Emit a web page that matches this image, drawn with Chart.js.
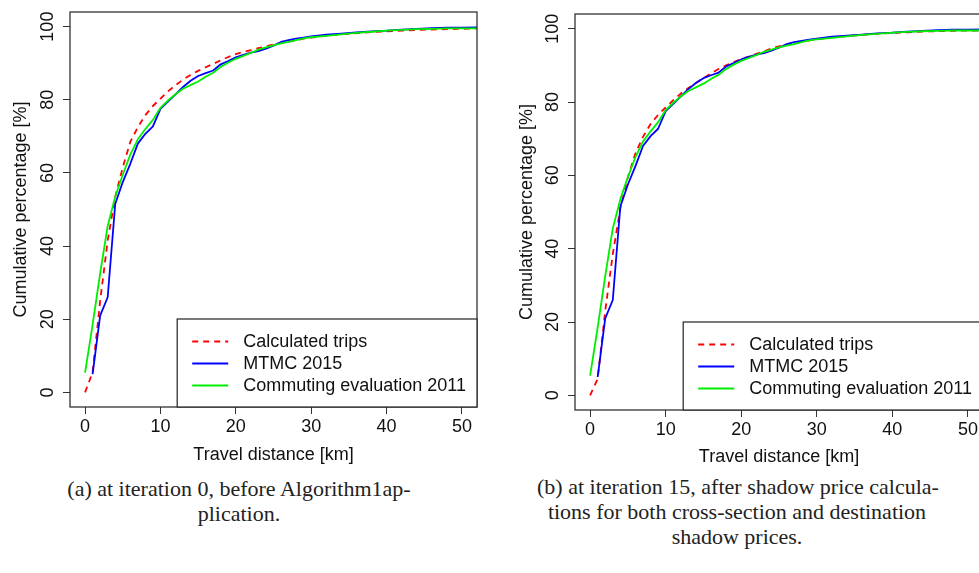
<!DOCTYPE html>
<html>
<head>
<meta charset="utf-8">
<title>Cumulative trip length distribution</title>
<script src="https://cdn.jsdelivr.net/npm/chart.js@4.4.0/dist/chart.umd.min.js"></script>
<style>
  html, body { margin: 0; padding: 0; background: #fff; width: 979px; height: 573px; overflow: hidden; }
  .panel { position: absolute; top: 0; }
  .caption {
    position: absolute;
    font-family: "Liberation Serif", "DejaVu Serif", serif;
    font-size: 22px;
    line-height: 25px;
    text-align: center;
    color: #222;
    white-space: nowrap;
  }
</style>
</head>
<body>

<div class="panel" style="left:0; width:490px; height:470px;"><canvas id="chartA" width="490" height="470"></canvas></div>
<div class="panel" style="left:490px; width:510px; height:470px;"><canvas id="chartB" width="510" height="470"></canvas></div>

<div class="caption" style="left:39px; width:400px; top:476px;">(a) at iteration 0, before Algorithm1ap-<br>plication.</div>
<div class="caption" style="left:537px; width:400px; top:474px;">(b) at iteration 15, after shadow price calcula-<br>tions for both cross-section and destination<br>shadow prices.</div>

<script>
// =============================
// DATA
// =============================
const distanceKm = [0, 1, 2, 3, 4, 5, 6, 7, 8, 9, 10, 11, 12, 13, 14, 15, 16, 17, 18, 19, 20,
  21, 22, 23, 24, 25, 26, 27, 28, 29, 30, 32, 34, 36, 38, 40, 42, 44, 46, 48, 50, 52];

// cumulative share of trips [%] at each distance
const calcTripsIter0 = [0, 5.5, 25, 41.5, 53.5, 61.5, 68.5, 72.5, 75.8, 78.3,
  80.3, 82.3, 84.0, 85.5, 86.8, 87.9, 88.9, 89.8, 90.8, 91.7,
  92.5, 93.1, 93.6, 94.1, 94.6, 95.1, 95.5, 95.9, 96.3, 96.7,
  97.0, 97.5, 97.9, 98.2, 98.5, 98.7, 98.9, 99.1, 99.2, 99.3, 99.4, 99.5];

const calcTripsIter15 = [0, 4.5, 23, 38.5, 51, 59.5, 66, 70.5, 74, 76.5,
  78.5, 80.5, 82.3, 83.8, 85.2, 86.5, 87.8, 89.0, 90.0, 90.9,
  91.7, 92.4, 93.1, 93.8, 94.6, 95.2, 95.6, 96.0, 96.4, 96.8,
  97.1, 97.6, 98.0, 98.3, 98.6, 98.8, 99.0, 99.2, 99.3, 99.4, 99.5, 99.5];

const mtmc2015 = [null, 5, 21, 26, 51.5, 57.5, 62.5, 68, 70.7, 72.7,
  77.5, 79.5, 81.5, 83.5, 85.2, 86.5, 87.3, 88, 89.7, 90.6,
  91.6, 92.3, 92.9, 93.3, 94, 94.8, 95.8, 96.3, 96.7, 97,
  97.3, 97.8, 98.1, 98.4, 98.7, 98.9, 99.2, 99.4, 99.6, 99.7, 99.7, 99.8];

const commuting2011 = [5.4, 18.5, 32.5, 45.5, 53.5, 59.5, 65, 69.2, 72, 74.5,
  77.8, 79.8, 81.5, 83, 84, 85, 86.3, 87.4, 89, 90.2,
  91.2, 92, 92.8, 93.7, 94.3, 94.9, 95.4, 95.8, 96.3, 96.8,
  97.1, 97.5, 97.9, 98.3, 98.6, 98.9, 99.1, 99.3, 99.4, 99.5, 99.5, 99.5];

const seriesLabels = ["Calculated trips", "MTMC 2015", "Commuting evaluation 2011"];
const xTickValues = [0, 10, 20, 30, 40, 50];
const yTickValues = [0, 20, 40, 60, 80, 100];

// =============================
// STYLE
// =============================
const SANS = "'Liberation Sans', Arial, Helvetica, sans-serif";
const FONT_SIZE = 18;
const INK = "#111";

// =============================
// UTIL
// =============================
const toPoints = (values) =>
  distanceKm.map((x, i) => ({ x, y: values[i] })).filter((p) => p.y !== null);

// frame round the plot region (R style box)
const boxPlugin = {
  id: "plotBox",
  afterDraw(chart) {
    const { ctx, chartArea: a } = chart;
    ctx.save();
    ctx.strokeStyle = "#222";
    ctx.lineWidth = 1.2;
    ctx.strokeRect(a.left, a.top, a.right - a.left, a.bottom - a.top);
    ctx.restore();
  }
};

// legend box in the bottom right corner of the plot region
const cornerLegendPlugin = {
  id: "cornerLegend",
  afterDraw(chart) {
    const { ctx, chartArea: a } = chart;
    const sets = chart.data.datasets;
    ctx.save();
    ctx.font = `${FONT_SIZE}px ${SANS}`;
    const textW = Math.max(...sets.map((d) => ctx.measureText(d.label).width));
    const boxH = 88;
    const boxW = 66 + textW + 11;
    const left = a.right - boxW;
    const top = a.bottom - boxH;

    ctx.fillStyle = "#fff";
    ctx.fillRect(left, top, boxW, boxH);
    ctx.strokeStyle = "#222";
    ctx.lineWidth = 1.2;
    ctx.strokeRect(left, top, boxW, boxH);

    sets.forEach((d, i) => {
      const y = top + 22.5 + i * 22;
      ctx.beginPath();
      ctx.setLineDash(d.borderDash || []);
      ctx.strokeStyle = d.borderColor;
      ctx.lineWidth = d.borderWidth;
      ctx.moveTo(left + 15, y);
      ctx.lineTo(left + 51, y);
      ctx.stroke();
      ctx.setLineDash([]);
      ctx.fillStyle = INK;
      ctx.textBaseline = "middle";
      ctx.textAlign = "left";
      ctx.fillText(d.label, left + 66, y + 1);
    });
    ctx.restore();
  }
};

// =============================
// RENDER
// =============================
function renderPanel(canvasId, calcValues, frame) {
  // frame: plot region in canvas coordinates + title offsets
  const canvas = document.getElementById(canvasId);
  const ctx = canvas.getContext("2d");

  return new Chart(ctx, {
    type: "scatter",
    data: {
      datasets: [
        {
          label: seriesLabels[0],
          data: toPoints(calcValues),
          borderColor: "#ff0000",
          borderWidth: 1.8,
          borderDash: [6, 5],
          order: 3
        },
        {
          label: seriesLabels[1],
          data: toPoints(mtmc2015),
          borderColor: "#0000ff",
          borderWidth: 1.8,
          order: 2
        },
        {
          label: seriesLabels[2],
          data: toPoints(commuting2011),
          borderColor: "#00ee00",
          borderWidth: 1.8,
          order: 1
        }
      ].map((d) => ({
        ...d,
        showLine: true,
        pointRadius: 0,
        pointHoverRadius: 0,
        tension: 0,
        borderJoinStyle: "round",
        fill: false
      }))
    },
    options: {
      responsive: false,
      animation: false,
      events: [],
      layout: {
        padding: { left: 0, top: frame.top, right: canvas.width - frame.right, bottom: 0 }
      },
      plugins: {
        legend: { display: false },
        tooltip: { enabled: false }
      },
      scales: {
        x: {
          type: "linear",
          min: -2,
          max: 52,
          afterBuildTicks: (s) => { s.ticks = xTickValues.map((v) => ({ value: v })); },
          afterFit: (s) => { s.height = canvas.height - frame.bottom; },
          grid: { drawOnChartArea: false, drawTicks: true, tickLength: 7, color: "#333", lineWidth: 1 },
          border: { display: false },
          ticks: { color: INK, padding: 2, maxRotation: 0, font: { family: SANS, size: FONT_SIZE } },
          title: {
            display: true,
            text: "Travel distance [km]",
            color: INK,
            font: { family: SANS, size: FONT_SIZE },
            padding: { top: 0, bottom: frame.xTitlePad }
          }
        },
        y: {
          type: "linear",
          min: -4,
          max: 104,
          afterBuildTicks: (s) => { s.ticks = yTickValues.map((v) => ({ value: v })); },
          afterFit: (s) => { s.width = frame.left; },
          grid: { drawOnChartArea: false, drawTicks: true, tickLength: 7, color: "#333", lineWidth: 1 },
          border: { display: false },
          ticks: {
            color: INK,
            padding: 0,
            minRotation: 90,
            maxRotation: 90,
            crossAlign: "center",
            font: { family: SANS, size: FONT_SIZE }
          },
          title: {
            display: true,
            text: "Cumulative percentage [%]",
            color: INK,
            font: { family: SANS, size: FONT_SIZE },
            padding: { top: frame.yTitlePad, bottom: 0 }
          }
        }
      }
    },
    plugins: [boxPlugin, cornerLegendPlugin]
  });
}

renderPanel("chartA", calcTripsIter0, { left: 70, top: 12, right: 477, bottom: 407, xTitlePad: 4, yTitlePad: 10 });
renderPanel("chartB", calcTripsIter15, { left: 85, top: 14, right: 493, bottom: 410, xTitlePad: 2, yTitlePad: 26 });
</script>
</body>
</html>
